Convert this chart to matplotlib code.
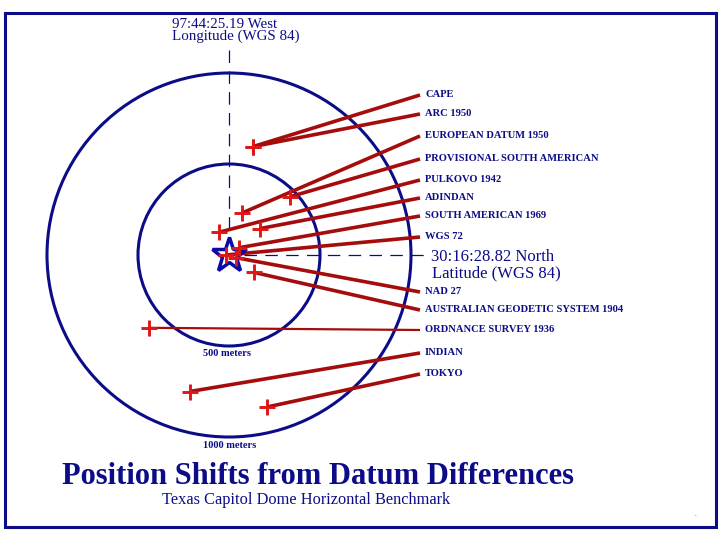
import numpy as np
import matplotlib.pyplot as plt
from matplotlib.patches import Circle, Rectangle

# datum shifts relative to WGS 84 (metres east / north)
datums = ["CAPE", "ARC 1950", "EUROPEAN DATUM 1950", "PROVISIONAL SOUTH AMERICAN",
          "PULKOVO 1942", "ADINDAN", "SOUTH AMERICAN 1969", "WGS 72", "NAD 27",
          "AUSTRALIAN GEODETIC SYSTEM 1904", "ORDNANCE SURVEY 1936", "INDIAN", "TOKYO"]
east_m = [130, 130, 70, 335, -55, 170, 55, -15, 40, 135, -440, -215, 210]
north_m = [595, 595, 230, 320, 125, 145, 40, 0, -15, -95, -400, -750, -835]
ring_radii_m = [500, 1000]
ring_labels = ["500 meters", "1000 meters"]

# layout (figure pixels, y down)
label_row_px = [95, 114, 136, 159, 180, 198, 216, 237, 292, 310, 330, 353, 374]
CX, CY = 229, 255          # WGS 84 point on the page
PX_PER_M = 91 / 500.0
W, H = 720, 540

NAVY = "#0c0c88"
DARKRED = "#a50c0c"
RED = "#e01515"

plt.rcParams["font.family"] = ["Liberation Serif", "DejaVu Serif"]
plt.rcParams["lines.scale_dashes"] = False


def px(x, y):
    '''page pixel -> metres'''
    return (x - CX) / PX_PER_M, (CY - y) / PX_PER_M


fig = plt.figure(figsize=(7.2, 5.4), dpi=100)
ax = fig.add_axes([0, 0, 1, 1])
ax.set_xlim(px(0, 0)[0], px(W, 0)[0])
ax.set_ylim(px(0, H)[1], px(0, 0)[1])
ax.set_aspect("equal")
ax.axis("off")

# frame round the whole page
fig.patches.append(Rectangle((5 / W, 1 - 527 / H), 711 / W, 514 / H,
                             transform=fig.transFigure, fill=False,
                             ec=NAVY, lw=2.2, zorder=0))

# range rings
for r in ring_radii_m:
    ax.add_patch(Circle((0, 0), r, fill=False, ec=NAVY, lw=2.2, zorder=2))
ax.text(*px(203, 354), ring_labels[0], color=NAVY, fontsize=7.5,
        fontweight="bold", ha="left", va="center")
ax.text(*px(203, 446), ring_labels[1], color=NAVY, fontsize=7.5,
        fontweight="bold", ha="left", va="center")

# longitude / latitude guide lines
x0, ytop = px(CX, 50)
_, ybot = px(CX, 238)
ax.plot([0, 0], [ytop, ybot], color=NAVY, lw=0.9, dashes=(9, 6), zorder=1)
xl, _ = px(244, 0)
xr, _ = px(428, 0)
ax.plot([xl, xr], [0, 0], color=NAVY, lw=0.9, dashes=(9, 6), zorder=1)

ax.text(*px(172, 28), "97:44:25.19 West", color=NAVY, fontsize=10.8,
        ha="left", va="baseline")
ax.text(*px(172, 40), "Longitude (WGS 84)", color=NAVY, fontsize=10.8,
        ha="left", va="baseline")
ax.text(*px(431, 257), "30:16:28.82 North", color=NAVY, fontsize=12,
        ha="left", va="center")
ax.text(*px(432, 273), "Latitude (WGS 84)", color=NAVY, fontsize=12,
        ha="left", va="center")

# leader lines from each datum position to its label
lx, _ = px(420, 0)
for name, e, n, row in zip(datums, east_m, north_m, label_row_px):
    _, ly = px(0, row)
    lw = 1.6 if name.startswith("ORDNANCE") else 2.6
    ax.plot([e, lx], [n, ly], color=DARKRED, lw=lw, solid_capstyle="butt", zorder=3)
    ax.text(*px(425, row), name, color=NAVY, fontsize=7.6, fontweight="bold",
            ha="left", va="center")

ax.plot(east_m, north_m, "+", color=RED, ms=11.5, mew=2.1, ls="none", zorder=5)
ax.plot(0, 0, marker="*", ms=26, mfc="none", mec="#0a0aa8", mew=2.5, zorder=4)

# titles
fig.text(318 / W, 1 - 477 / H, "Position Shifts from Datum Differences",
         color=NAVY, fontsize=22, fontweight="bold", ha="center", va="center")
fig.text(306 / W, 1 - 500 / H, "Texas Capitol Dome Horizontal Benchmark",
         color=NAVY, fontsize=11.8, ha="center", va="center")
fig.text(695 / W, 1 - 515 / H, ".", color=NAVY, fontsize=5, ha="center", va="center")

fig.savefig("out.png", dpi=100)
